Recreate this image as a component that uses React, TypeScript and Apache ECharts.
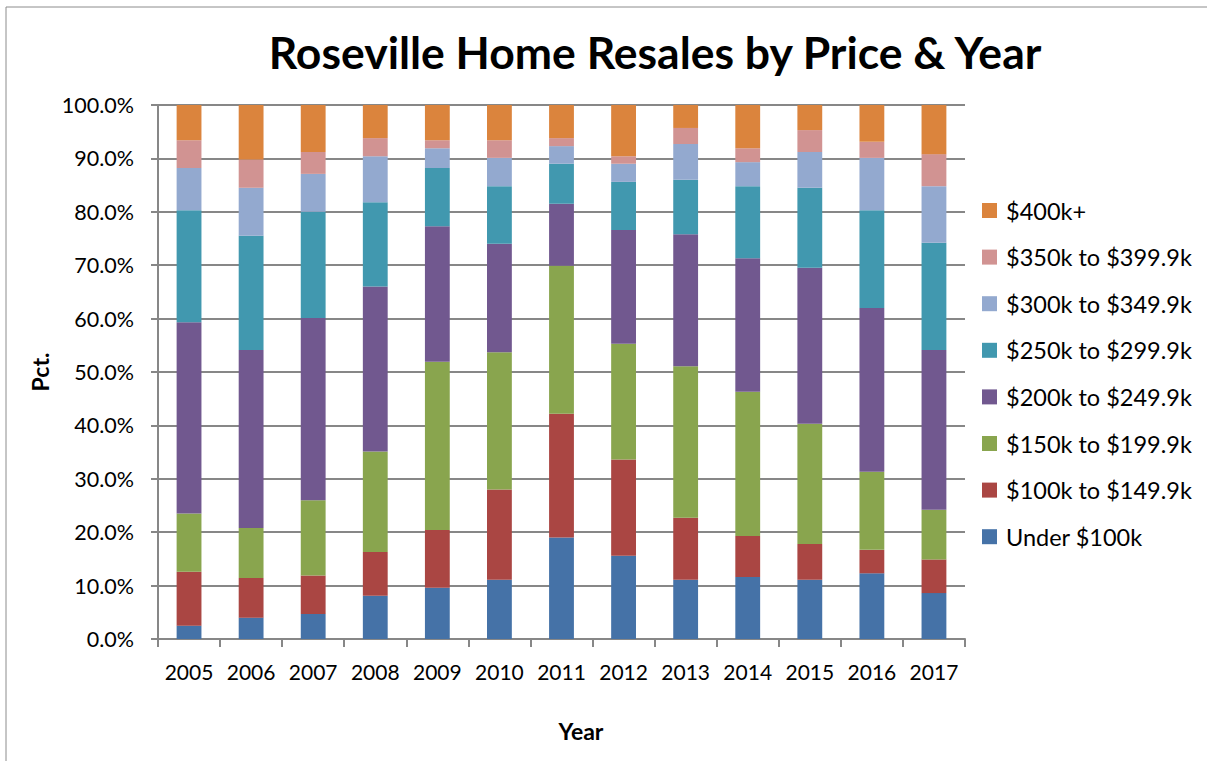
import React, { useEffect, useRef } from "react";
import * as echarts from "echarts";

const years = ["2005", "2006", "2007", "2008", "2009", "2010", "2011", "2012", "2013", "2014", "2015", "2016", "2017"];

const seriesNames = [
  "Under $100k",
  "$100k to $149.9k",
  "$150k to $199.9k",
  "$200k to $249.9k",
  "$250k to $299.9k",
  "$300k to $349.9k",
  "$350k to $399.9k",
  "$400k+",
];

const under100 = [2.5, 4.0, 4.7, 8.1, 9.6, 11.1, 19.0, 15.6, 11.1, 11.6, 11.1, 12.3, 8.6];
const k100to149 = [10.1, 7.4, 7.2, 8.2, 10.8, 16.9, 23.2, 18.0, 11.6, 7.7, 6.7, 4.4, 6.3];
const k150to199 = [10.9, 9.4, 14.1, 18.8, 31.5, 25.7, 27.7, 21.7, 28.4, 27.0, 22.5, 14.6, 9.3];
const k200to249 = [35.8, 33.3, 34.1, 30.9, 25.4, 20.3, 11.6, 21.3, 24.7, 25.0, 29.2, 30.7, 29.9];
const k250to299 = [21.0, 21.4, 19.9, 15.8, 10.9, 10.8, 7.5, 9.0, 10.2, 13.5, 15.0, 18.3, 20.1];
const k300to349 = [7.9, 9.0, 7.1, 8.6, 3.7, 5.3, 3.3, 3.4, 6.7, 4.5, 6.7, 9.8, 10.6];
const k350to399 = [5.2, 5.3, 4.1, 3.4, 1.5, 3.3, 1.5, 1.4, 3.0, 2.6, 4.1, 3.0, 6.0];
const k400plus = [6.6, 10.2, 8.8, 6.2, 6.6, 6.6, 6.2, 9.6, 4.3, 8.1, 4.7, 6.9, 9.2];

const seriesData = [under100, k100to149, k150to199, k200to249, k250to299, k300to349, k350to399, k400plus];
const colors = ["#4572A7", "#AA4643", "#89A54E", "#71588F", "#4198AF", "#93A9CF", "#D19392", "#DB843D"];

const yTicks = [0, 10, 20, 30, 40, 50, 60, 70, 80, 90, 100];

const FONT = "Lato, 'Open Sans', sans-serif";

export default function App() {
  const ref = useRef<HTMLDivElement>(null);
  useEffect(() => {
    document.body.style.margin = "0";
    const chart = echarts.init(ref.current!, null, { renderer: "svg" });
    chart.setOption({
      animation: false,
      backgroundColor: "#ffffff",
      color: colors,
      title: {
        text: "Roseville Home Resales by Price & Year",
        left: 650,
        top: 24,
        textAlign: "center",
        textStyle: { fontFamily: FONT, fontWeight: "bold", fontSize: 44.5, color: "#000" },
      },
      graphic: [
        { type: "line", shape: { x1: 6, y1: 7, x2: 1207, y2: 7 }, style: { stroke: "#8c8c8c", lineWidth: 1 } },
        { type: "line", shape: { x1: 6, y1: 7, x2: 6, y2: 761 }, style: { stroke: "#8c8c8c", lineWidth: 1 } },
        {
          type: "text",
          x: 581,
          y: 731,
          style: {
            text: "Year",
            font: "bold 23px Lato, sans-serif",
            fill: "#000",
            align: "center",
            verticalAlign: "middle",
          },
        },
        {
          type: "text",
          x: 40,
          y: 372,
          rotation: Math.PI / 2,
          style: {
            text: "Pct.",
            font: "bold 23px Lato, sans-serif",
            fill: "#000",
            align: "center",
            verticalAlign: "middle",
          },
        },
      ],
      legend: {
        orient: "vertical",
        left: 977,
        top: 193.5,
        itemWidth: 15,
        itemHeight: 15,
        itemGap: 22.6,
        icon: "rect",
        data: [...seriesNames].reverse(),
        textStyle: { fontFamily: FONT, fontSize: 23.5, color: "#000", padding: [0, 0, 0, 4] },
      },
      grid: { left: 158, right: 242, top: 105, bottom: 122 },
      xAxis: {
        type: "category",
        data: years,
        axisLine: { lineStyle: { color: "#878787", width: 2 } },
        axisTick: { show: true, interval: 0, length: 8, lineStyle: { color: "#878787", width: 2 } },
        axisLabel: { interval: 0, fontFamily: FONT, fontSize: 21, color: "#000", margin: 22 },
      },
      yAxis: {
        type: "value",
        min: 0,
        max: 100,
        interval: 10,
        axisLine: { show: true, lineStyle: { color: "#878787", width: 2 } },
        axisTick: { show: true, length: 7, lineStyle: { color: "#878787", width: 2 } },
        splitLine: { lineStyle: { color: "#878787", width: 2 } },
        axisLabel: {
          fontFamily: FONT,
          fontSize: 21.5,
          color: "#000",
          margin: 24,
          formatter: (v: number) => (yTicks.includes(v) ? v.toFixed(1) + "%" : ""),
        },
      },
      series: seriesNames.map((name, i) => ({
        name,
        type: "bar",
        stack: "total",
        barWidth: "40%",
        data: seriesData[i],
        itemStyle: { color: colors[i] },
      })),
    });
    return () => chart.dispose();
  }, []);
  return <div ref={ref} style={{ width: 1207, height: 761 }} />;
}
